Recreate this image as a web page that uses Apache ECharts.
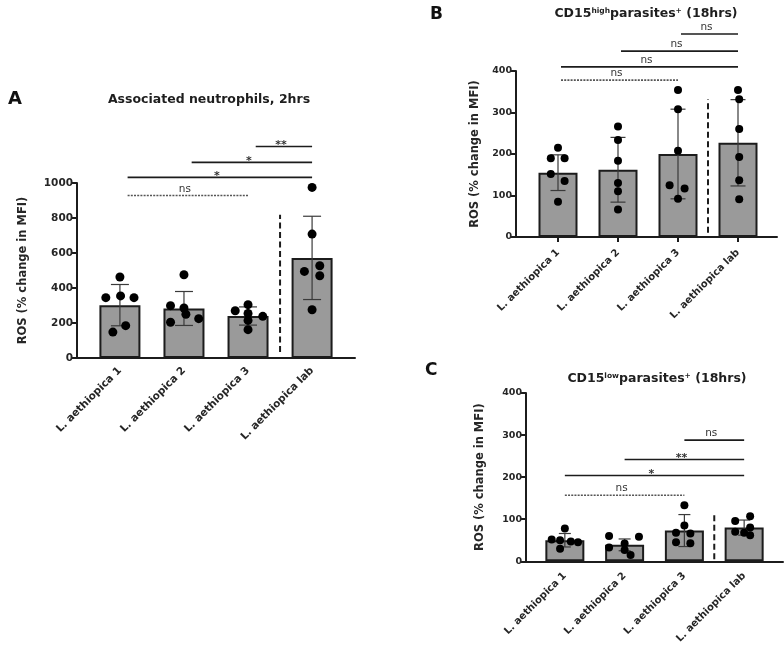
<!DOCTYPE html>
<html>
<head>
<meta charset="utf-8">
<script src="https://cdn.jsdelivr.net/npm/echarts@6/dist/echarts.min.js"></script>
<style>html,body{margin:0;padding:0;background:#fff}#c{width:784px;height:646px}</style>
</head>
<body>
<div id="c"></div>
<script>
// ---------- DATA ----------
const categories = ['L. aethiopica 1', 'L. aethiopica 2', 'L. aethiopica 3', 'L. aethiopica lab'];

// Panel A: Associated neutrophils, 2hrs
const meanA = [302, 283, 240, 572];
const sdA = [118, 97, 52, 238];
const pointsA = [
  [463, 345, 355, 345, 185, 148],
  [476, 299, 286, 204, 250, 225],
  [305, 270, 255, 238, 215, 162],
  [975, 708, 495, 527, 470, 276]
];
const ticksA = {min: 0, max: 1000, step: 200};
const sigA = [ // [fromCat, toCat, height, label, dashed]
  [2, 3, 1209, '**', false],
  [1, 3, 1118, '*', false],
  [0, 3, 1032, '*', false],
  [0, 2, 929, 'ns', true]
];
const dividerA = [35, 818];

// Panel B: CD15 high parasites+ (18hrs)
const meanB = [155, 162, 200, 227];
const sdB = [43, 78, 108, 104];
const pointsB = [
  [215, 190, 190, 152, 135, 85],
  [266, 234, 184, 130, 110, 66],
  [354, 308, 208, 125, 117, 92],
  [354, 332, 260, 193, 137, 91]
];
const ticksB = {min: 0, max: 400, step: 100};
const sigB = [
  [2, 3, 489, 'ns', false],
  [1, 3, 448, 'ns', false],
  [0, 3, 410, 'ns', false],
  [0, 2, 378, 'ns', true]
];
const dividerB = [10, 332];

// Panel C: CD15 low parasites+ (18hrs)
const meanC = [50, 39, 73, 80];
const sdC = [16, 14, 38, 18];
const pointsC = [
  [78, 52, 50, 47, 45, 30],
  [60, 58, 42, 33, 27, 15],
  [133, 85, 68, 66, 45, 43],
  [107, 96, 80, 70, 68, 62]
];
const ticksC = {min: 0, max: 400, step: 100};
const sigC = [
  [2, 3, 288, 'ns', false],
  [1, 3, 242, '**', false],
  [0, 3, 204, '*', false],
  [0, 2, 157, 'ns', true]
];
const dividerC = [5, 112];

// ---------- LAYOUT / STYLE ----------
const jitterA = [
  [0, -0.22, 0.01, 0.22, 0.09, -0.11],
  [0, -0.21, 0, -0.21, 0.03, 0.23],
  [0, -0.2, 0, 0.23, 0, 0],
  [0, 0, -0.12, 0.12, 0.12, 0]
];
const jitterB = [
  [0, -0.12, 0.11, -0.12, 0.11, 0],
  [0, 0, 0, 0, 0, 0],
  [0, 0, 0, -0.14, 0.11, 0],
  [0, 0.02, 0.02, 0.02, 0.02, 0.02]
];
const jitterC = [
  [0, -0.22, -0.08, 0.1, 0.22, -0.08],
  [-0.26, 0.24, 0, -0.26, 0, 0.1],
  [0, 0, -0.14, 0.1, -0.14, 0.1],
  [0.1, -0.15, 0.1, -0.15, 0, 0.1]
];

const FONT = '"DejaVu Sans", "Liberation Sans", Arial, sans-serif';
const INK = '#1c1c1c';
const TXT = '#262626';

const chart = echarts.init(document.getElementById('c'), null, {renderer: 'canvas'});

const panels = [
  {grid: {left: 77, top: 183, width: 278, height: 175}, xr: [-0.67, 3.67], ticks: ticksA,
   mean: meanA, sd: sdA, pts: pointsA, jit: jitterA, sig: sigA, div: dividerA,
   barW: 41, cap: 18, dot: 9, xTick: false, inset: 0.12, yFont: 10.5, xFont: 10.5, xMargin: 11, nameGap: 48, nameFont: 11.5},
  {grid: {left: 516, top: 71, width: 261, height: 166}, xr: [-0.7, 3.65], ticks: ticksB,
   mean: meanB, sd: sdB, pts: pointsB, jit: jitterB, sig: sigB, div: dividerB,
   barW: 39, cap: 15, dot: 8, xTick: true, inset: 0.05, yFont: 9.5, xFont: 10, xMargin: 14, nameGap: 35, nameFont: 11.5},
  {grid: {left: 526, top: 393, width: 257, height: 169}, xr: [-0.65, 3.65], ticks: ticksC,
   mean: meanC, sd: sdC, pts: pointsC, jit: jitterC, sig: sigC, div: dividerC,
   barW: 39, cap: 12, dot: 8, xTick: false, inset: 0, yFont: 9.5, xFont: 10, xMargin: 13, nameGap: 40, nameFont: 11.5}
];

const grids = [], xAxes = [], yAxes = [], series = [];
panels.forEach((p, gi) => {
  grids.push(Object.assign({containLabel: false}, p.grid));
  xAxes.push({
    gridIndex: gi, type: 'value', min: p.xr[0], max: p.xr[1],
    splitLine: {show: false},
    axisLine: {show: true, onZero: false, lineStyle: {color: INK, width: 2}},
    axisTick: {show: p.xTick, customValues: [0, 1, 2, 3], length: 5, lineStyle: {color: INK, width: 2}},
    axisLabel: {
      customValues: [0, 1, 2, 3], rotate: 45, margin: p.xMargin,
      formatter: v => categories[Math.round(v)] || '',
      fontFamily: FONT, fontWeight: 'bold', fontSize: p.xFont, color: TXT
    }
  });
  yAxes.push({
    gridIndex: gi, type: 'value', min: p.ticks.min, max: p.ticks.max, interval: p.ticks.step,
    splitLine: {show: false},
    axisLine: {show: true, onZero: false, lineStyle: {color: INK, width: 2}},
    axisTick: {show: true, length: 5, lineStyle: {color: INK, width: 2}},
    axisLabel: {fontFamily: FONT, fontWeight: 'bold', fontSize: p.yFont, color: TXT, margin: 4,
      formatter: v => String(v)},
    name: 'ROS (% change in MFI)', nameLocation: 'middle', nameGap: p.nameGap, nameRotate: 90,
    nameTextStyle: {fontFamily: FONT, fontWeight: 'bold', fontSize: p.nameFont, color: TXT}
  });
  // bars
  series.push({
    type: 'bar', xAxisIndex: gi, yAxisIndex: gi, barWidth: p.barW, silent: true, z: 2,
    itemStyle: {color: '#9a9a9a', borderColor: INK, borderWidth: 2},
    data: p.mean.map((m, i) => [i, m])
  });
  // error bars
  series.push({
    type: 'custom', xAxisIndex: gi, yAxisIndex: gi, clip: false, silent: true, z: 3,
    data: p.mean.map((m, i) => [i, m - p.sd[i], m + p.sd[i]]),
    renderItem: (params, api) => {
      const lo = api.coord([api.value(0), api.value(1)]);
      const hi = api.coord([api.value(0), api.value(2)]);
      const hw = p.cap / 2;
      const st = {stroke: '#3a3a3a', lineWidth: 1.2};
      return {type: 'group', children: [
        {type: 'line', shape: {x1: lo[0], y1: lo[1], x2: hi[0], y2: hi[1]}, style: st},
        {type: 'line', shape: {x1: lo[0] - hw, y1: lo[1], x2: lo[0] + hw, y2: lo[1]}, style: st},
        {type: 'line', shape: {x1: hi[0] - hw, y1: hi[1], x2: hi[0] + hw, y2: hi[1]}, style: st}
      ]};
    }
  });
  // points
  const pts = [];
  p.pts.forEach((arr, i) => arr.forEach((v, k) => pts.push([i + p.jit[i][k], v])));
  series.push({
    type: 'scatter', xAxisIndex: gi, yAxisIndex: gi, silent: true, z: 4, clip: false,
    symbol: 'circle', symbolSize: p.dot, itemStyle: {color: '#000000', opacity: 1},
    data: pts
  });
  // significance brackets
  series.push({
    type: 'custom', xAxisIndex: gi, yAxisIndex: gi, clip: false, silent: true, z: 5,
    data: p.sig.map(r => [r[0], r[1], r[2]]),
    renderItem: (params, api) => {
      const r = p.sig[params.dataIndex];
      const a = api.coord([api.value(0) + p.inset, api.value(2)]);
      const b = api.coord([api.value(1), api.value(2)]);
      const dashed = r[4];
      const isStar = r[3].indexOf('*') >= 0;
      return {type: 'group', children: [
        {type: 'line', shape: {x1: a[0], y1: a[1], x2: b[0], y2: b[1]},
         style: {stroke: dashed ? '#555' : INK, lineWidth: 1.6, lineDash: dashed ? [2, 1.2] : null}},
        {type: 'text', style: {
          text: r[3], x: (a[0] + b[0]) / 2 - 3, y: a[1] + (isStar ? 4 : -1),
          align: 'center', verticalAlign: 'bottom',
          font: (isStar ? 'bold 11px ' : '10.5px ') + FONT, fill: '#333'
        }}
      ]};
    }
  });
  // dashed divider between 3 and lab
  series.push({
    type: 'custom', xAxisIndex: gi, yAxisIndex: gi, clip: false, silent: true, z: 5,
    data: [[2.5, p.div[0], p.div[1]]],
    renderItem: (params, api) => {
      const lo = api.coord([api.value(0), api.value(1)]);
      const hi = api.coord([api.value(0), api.value(2)]);
      return {type: 'line', shape: {x1: lo[0], y1: lo[1], x2: hi[0], y2: hi[1]},
        style: {stroke: INK, lineWidth: 2, lineDash: [6, 3.5]}};
    }
  });
});

const titleStyle = {fontFamily: FONT, fontWeight: 'bold', fontSize: 12.5, color: '#1e1e1e'};
const rich = {
  b: {fontFamily: FONT, fontWeight: 'bold', fontSize: 12.5, color: '#1e1e1e'},
  s: {fontFamily: FONT, fontWeight: 'bold', fontSize: 7.5, color: '#1e1e1e', verticalAlign: 'top', padding: [0, 0, 6, 0]}
};

chart.setOption({
  animation: false,
  backgroundColor: '#ffffff',
  title: [
    {text: 'A', left: 3, top: 85, textStyle: {fontFamily: FONT, fontWeight: 'bold', fontSize: 18, color: '#111'}},
    {text: 'Associated neutrophils, 2hrs', left: 204, top: 88, textAlign: 'center', textStyle: titleStyle},
    {text: 'B', left: 425, top: 1, textStyle: {fontFamily: FONT, fontWeight: 'bold', fontSize: 17, color: '#111'}},
    {text: '{b|CD15}{s|high}{b|parasites}{s|+}{b| (18hrs)}', left: 641, top: 2, textAlign: 'center', textStyle: {rich}},
    {text: 'C', left: 420, top: 357, textStyle: {fontFamily: FONT, fontWeight: 'bold', fontSize: 17, color: '#111'}},
    {text: '{b|CD15}{s|low}{b|parasites}{s|+}{b| (18hrs)}', left: 652, top: 367, textAlign: 'center', textStyle: {rich}}
  ],
  grid: grids,
  xAxis: xAxes,
  yAxis: yAxes,
  series: series
});
</script>
</body>
</html>
